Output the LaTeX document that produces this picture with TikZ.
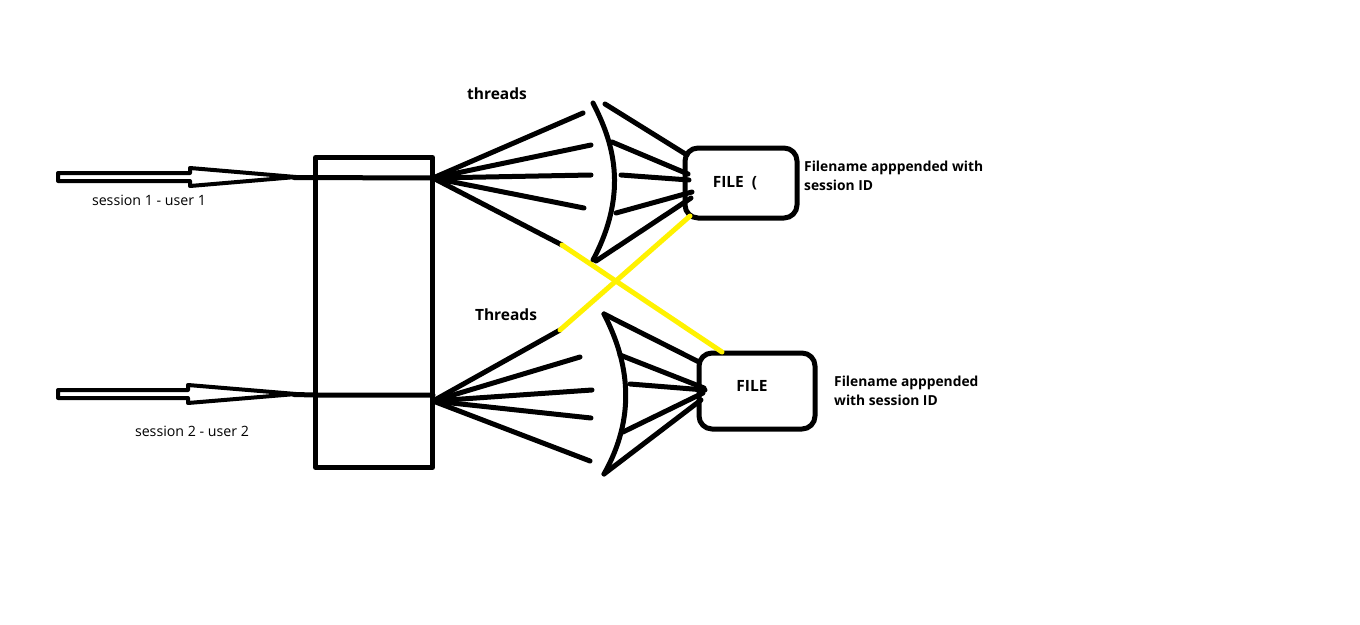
\documentclass[tikz,border=0pt]{standalone}
\usepackage{fontspec}
\setmainfont{Open Sans}
\definecolor{pyellow}{HTML}{FFF200}
\begin{document}
\begin{tikzpicture}[x=1pt,y=-1pt,line cap=round,line join=round,
  ink/.style={draw=black,line width=5pt},
  yel/.style={draw=pyellow,line width=5pt},
  hollow/.style={draw=black,line width=4pt,line join=round},
  filebox/.style={draw=black,line width=5pt,rounded corners=13pt,inner sep=0pt,outer sep=0pt,anchor=north west},
  lbl/.style={font=\fontsize{14.2}{16}\selectfont,inner sep=0pt},
  blbl/.style={font=\bfseries\fontsize{13.8}{19}\selectfont,inner sep=0pt,align=left,anchor=west},
  head/.style={font=\bfseries\fontsize{15.5}{18}\selectfont,inner sep=0pt}]
\useasboundingbox (0,0) rectangle (1360,624);
\fill[white] (0,0) rectangle (1360,624);

% central box
\node[draw=black,line width=5pt,minimum width=117pt,minimum height=310pt,inner sep=0pt,outer sep=0pt,anchor=north west] (box) at (315.5,157.5) {};

% hollow arrows
\draw[hollow] (58,173) -- (190,173) -- (190,168) -- (296,177) -- (190,186) -- (190,181) -- (58,181) -- cycle;
\draw[hollow] (58,390) -- (188,390) -- (188,385) -- (296,394) -- (188,403) -- (188,398) -- (58,398) -- cycle;
\coordinate (a1) at (294,177.5);
\coordinate (a2) at (294,394.5);
\coordinate (o1) at (433,178);
\coordinate (o2) at (433,401);
\coordinate (b2) at (315,395);
\draw[ink] (a1) -- (o1);
\draw[ink] (a2) -- (b2) -- (433,395);

\node[lbl] (s1) at (149,200) {session 1 - user 1};
\node[lbl] (s2) at (192,431) {session 2 - user 2};

% file boxes
\node[filebox,minimum width=112pt,minimum height=70pt] (f1) at (685,148) {};
\node[filebox,minimum width=116pt,minimum height=76pt] (f2) at (699,353) {};
\node[head] (f1t) at (735,183) {FILE\ \ (};
\node[head] (f2t) at (752,386) {FILE};
\node[blbl] (d1) at (804,176) {Filename apppended with\\session ID};
\node[blbl] (d2) at (834,391) {Filename apppended\\with session ID};

\node[head] (t1) at (497,94) {threads};
\node[head] (t2) at (506,315) {Threads};

% top fan
\coordinate (e11) at (583,113);
\coordinate (e12) at (591,145);
\coordinate (e13) at (591,175);
\coordinate (e14) at (584,208);
\coordinate (e15) at (562,245);
\foreach \e in {e11,e12,e13,e14,e15} \draw[ink] (o1) -- (\e);
\coordinate (c1a) at (593,103);
\coordinate (c1b) at (593,260);
\draw[ink] (c1a) .. controls (612,140) and (630,190) .. (c1b);
\coordinate (p11) at (605,104);
\coordinate (p12) at (612,142);
\coordinate (p13) at (621,175);
\coordinate (p14) at (616,213);
\coordinate (p15) at (596,261);
\draw[ink] (p11) -- (687,155);
\draw[ink] (p12) -- (688,174);
\draw[ink] (p13) -- (689,180);
\draw[ink] (p14) -- (692,192);
\draw[ink] (p15) -- (691,198);

% bottom fan
\coordinate (e21) at (560,330);
\coordinate (e22) at (580,357);
\coordinate (e23) at (592,390);
\coordinate (e24) at (591,418);
\coordinate (e25) at (590,461);
\foreach \e in {e21,e22,e23,e24,e25} \draw[ink] (o2) -- (\e);
\coordinate (c2a) at (604,314);
\coordinate (c2b) at (604,474);
\draw[ink] (c2a) .. controls (625,355) and (640,410) .. (c2b);
\draw[ink] (c2a) -- (699,362);
\draw[ink] (620,355) -- (704,388);
\draw[ink] (630,384) -- (705,390);
\draw[ink] (623,432) -- (703,393);
\draw[ink] (c2b) -- (701,400);

% yellow crossing links
\draw[yel] (e15) -- (722,352);
\draw[yel] (e21) -- (690,216);
\end{tikzpicture}
\end{document}
